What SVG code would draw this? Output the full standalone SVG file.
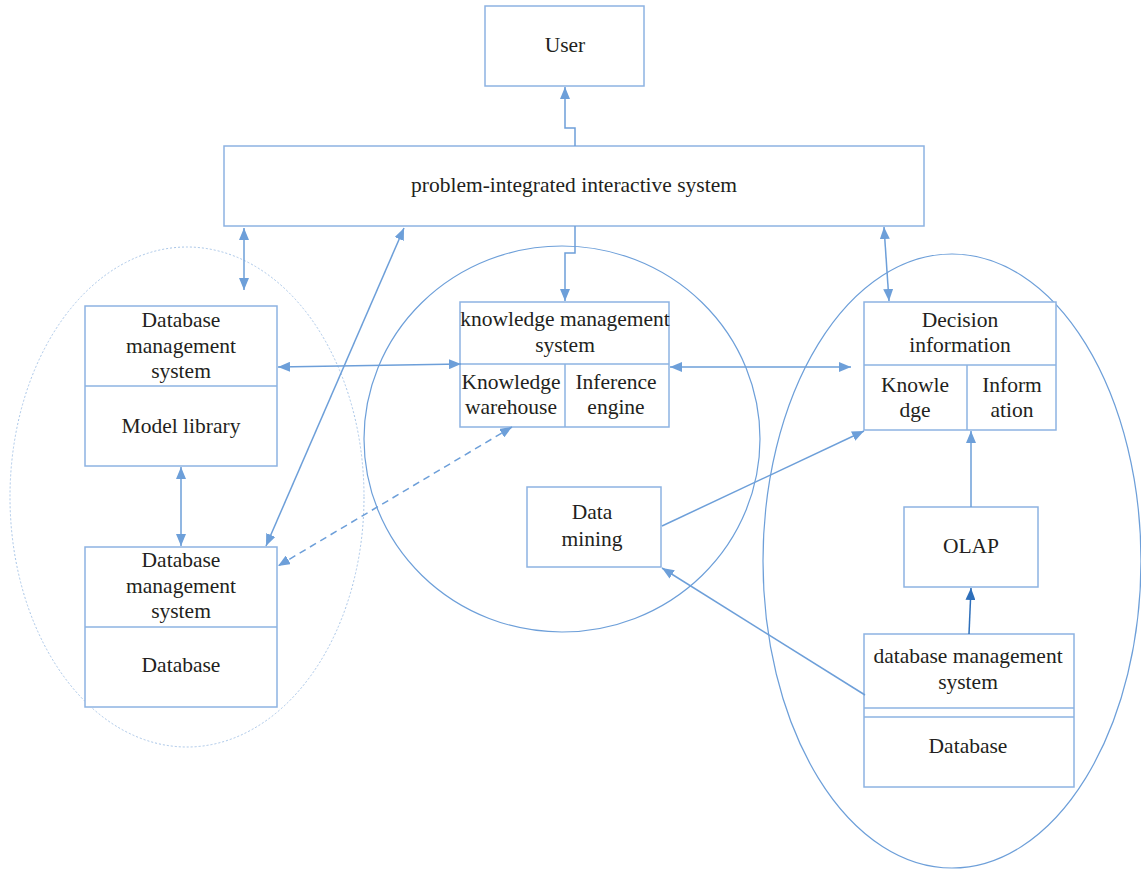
<svg xmlns="http://www.w3.org/2000/svg" width="1141" height="869" viewBox="0 0 1141 869">
<style>
.box{fill:#fff;stroke:#8db3e2;stroke-width:1.5}
.div{stroke:#8db3e2;stroke-width:1.5;fill:none}
.ln{stroke:#6d9fd9;stroke-width:1.5;fill:none}
.ell{stroke:#6d9fd9;stroke-width:1.2;fill:none}
text{font-family:"Liberation Serif","Times New Roman",serif;font-size:21.5px;fill:#231f20;text-anchor:middle}
</style>
<defs>
<marker id="ah" viewBox="0 0 12 10" refX="12" refY="5" markerWidth="12" markerHeight="10" markerUnits="userSpaceOnUse" orient="auto-start-reverse">
<path d="M0,0 L12,5 L0,10 Z" fill="#6d9fd9"/>
</marker>
<marker id="ahd" viewBox="0 0 12 10" refX="12" refY="5" markerWidth="12" markerHeight="10" markerUnits="userSpaceOnUse" orient="auto-start-reverse">
<path d="M0,0 L12,5 L0,10 Z" fill="#2e6fba"/>
</marker>
</defs>
<g id="regions">
<ellipse cx="187" cy="497" rx="177" ry="250" fill="none" stroke="#a9c6e8" stroke-width="1" stroke-dasharray="2,2"/>
<ellipse class="ell" cx="562" cy="439" rx="198" ry="193"/>
<ellipse class="ell" cx="952" cy="561" rx="189" ry="307"/>
</g>
<g id="user">
<rect class="box" x="485" y="6" width="159" height="80"/>
<text x="565" y="52">User</text>
</g>
<g id="problem">
<rect class="box" x="224" y="146" width="700" height="80"/>
<text x="574" y="192">problem-integrated interactive system</text>
</g>
<g id="dbms-model">
<rect class="box" x="85" y="306" width="192" height="160"/>
<line class="div" x1="85" y1="386" x2="277" y2="386"/>
<text x="181" y="327">Database</text>
<text x="181" y="353">management</text>
<text x="181" y="378">system</text>
<text x="181" y="433">Model library</text>
</g>
<g id="dbms-db-left">
<rect class="box" x="85" y="547" width="192" height="160"/>
<line class="div" x1="85" y1="627" x2="277" y2="627"/>
<text x="181" y="567">Database</text>
<text x="181" y="593">management</text>
<text x="181" y="618">system</text>
<text x="181" y="672">Database</text>
</g>
<g id="kms">
<rect class="box" x="460" y="302" width="209" height="125"/>
<line class="div" x1="460" y1="364" x2="669" y2="364"/>
<line class="div" x1="565" y1="364" x2="565" y2="427"/>
<text x="565" y="326">knowledge management</text>
<text x="565" y="352">system</text>
<text x="511" y="389">Knowledge</text>
<text x="511" y="414">warehouse</text>
<text x="616" y="389">Inference</text>
<text x="616" y="414">engine</text>
</g>
<g id="decision">
<rect class="box" x="864" y="302" width="192" height="128"/>
<line class="div" x1="864" y1="365" x2="1056" y2="365" stroke-width="2.5"/>
<line class="div" x1="967" y1="365" x2="967" y2="430"/>
<text x="960" y="327">Decision</text>
<text x="960" y="352">information</text>
<text x="915" y="392">Knowle</text>
<text x="915" y="417">dge</text>
<text x="1012" y="392">Inform</text>
<text x="1012" y="417">ation</text>
</g>
<g id="datamining">
<rect class="box" x="527" y="487" width="134" height="80"/>
<text x="592" y="519">Data</text>
<text x="592" y="546">mining</text>
</g>
<g id="olap">
<rect class="box" x="904" y="507" width="134" height="80"/>
<text x="971" y="553">OLAP</text>
</g>
<g id="dbms-db-right">
<rect class="box" x="864" y="634" width="210" height="153"/>
<line class="div" x1="864" y1="708" x2="1074" y2="708"/>
<line class="div" x1="864" y1="717" x2="1074" y2="717"/>
<text x="968" y="663">database management</text>
<text x="968" y="689">system</text>
<text x="968" y="753">Database</text>
</g>
<g id="connectors">
<polyline class="ln" points="575,146 575,128 565,128 565,87" marker-end="url(#ah)"/>
<polyline class="ln" points="575,226 575,253 565,253 565,301" marker-end="url(#ah)"/>
<line class="ln" x1="244" y1="228" x2="244" y2="290" marker-start="url(#ah)" marker-end="url(#ah)"/>
<line class="ln" x1="404" y1="228" x2="266" y2="546" marker-start="url(#ah)" marker-end="url(#ah)"/>
<line class="ln" x1="278" y1="367" x2="461" y2="364" marker-start="url(#ah)" marker-end="url(#ah)"/>
<line class="ln" x1="670" y1="367" x2="851" y2="367" marker-start="url(#ah)" marker-end="url(#ah)"/>
<line class="ln" x1="884" y1="227" x2="889" y2="301" marker-start="url(#ah)" marker-end="url(#ah)"/>
<line class="ln" x1="512" y1="427" x2="278" y2="566" stroke-dasharray="7,5" marker-start="url(#ah)" marker-end="url(#ah)"/>
<line class="ln" x1="181" y1="467" x2="181" y2="546" marker-start="url(#ah)" marker-end="url(#ah)"/>
<line class="ln" x1="662" y1="526" x2="864" y2="431" marker-end="url(#ah)"/>
<line class="ln" x1="865" y1="695" x2="662" y2="568" marker-end="url(#ah)"/>
<line class="ln" x1="971" y1="507" x2="971" y2="431" marker-end="url(#ah)"/>
<line x1="969" y1="634" x2="971" y2="588" stroke="#2e6fba" stroke-width="1.5" marker-end="url(#ahd)"/>
</g>
</svg>
